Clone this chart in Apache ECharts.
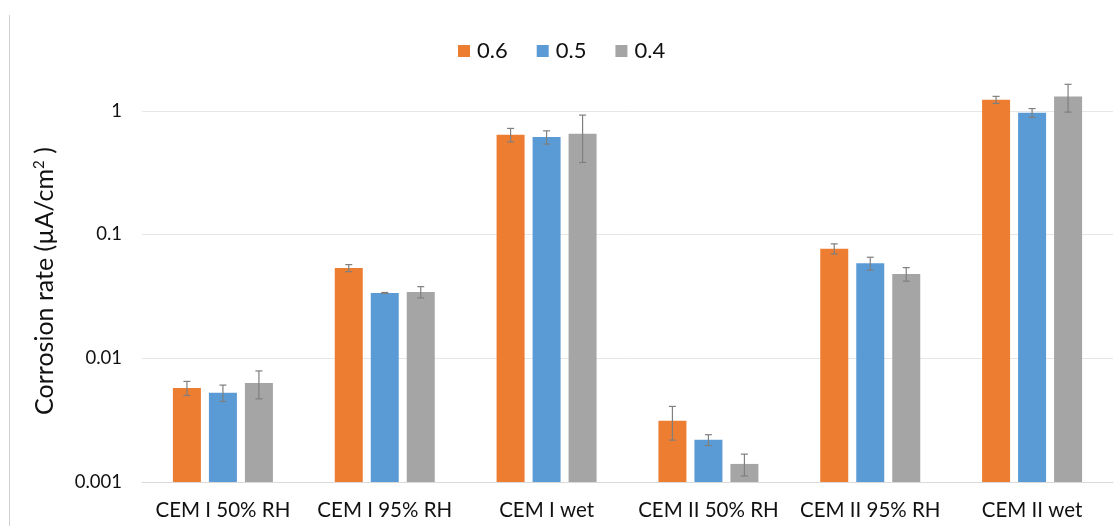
<!DOCTYPE html>
<html>
<head>
<meta charset="utf-8">
<script src="https://cdn.jsdelivr.net/npm/echarts@6/dist/echarts.min.js"></script>
<style>
  html, body { margin: 0; padding: 0; background: #fff; }
  #chart { width: 1116px; height: 526px; }
</style>
</head>
<body>
<div id="chart"></div>
<script>
// Corrosion rate per exposure condition, grouped by w/c ratio
const categories = ['CEM I 50% RH', 'CEM I 95% RH', 'CEM I wet', 'CEM II 50% RH', 'CEM II 95% RH', 'CEM II wet'];
const seriesNames = ['0.6', '0.5', '0.4'];
const rate06 = [0.00575, 0.0536, 0.640, 0.00313, 0.0768, 1.227];
const rate05 = [0.00527, 0.0337, 0.613, 0.00219, 0.0585, 0.963];
const rate04 = [0.0063, 0.0343, 0.652, 0.0014, 0.048, 1.305];
// symmetric error (± value)
const err06 = [0.00075, 0.0035, 0.08, 0.00095, 0.0072, 0.08];
const err05 = [0.0008, 0.0003, 0.075, 0.00022, 0.007, 0.078];
const err04 = [0.0016, 0.0036, 0.27, 0.00028, 0.006, 0.33];
const yTicks = [0.001, 0.01, 0.1, 1, 10];

const colors = ['#ED7D31', '#5B9BD5', '#A5A5A5'];
const BAR_W = 28;
const BAR_GAP = 8;
const FONT = 'Lato, "Open Sans", sans-serif';

const rates = [rate06, rate05, rate04];
const errs = [err06, err05, err04];

// Bars grow from the bottom of the log axis, each with its error whisker
function barSeries(k) {
  const offset = (k - 1) * (BAR_W + BAR_GAP);
  return {
    type: 'custom',
    name: seriesNames[k],
    itemStyle: { color: colors[k] },
    data: categories.map((c, i) => [i, rates[k][i], errs[k][i]]),
    encode: { x: 0, y: 1 },
    renderItem: function (params, api) {
      const i = api.value(0), v = api.value(1), e = api.value(2);
      const xc = api.coord([i, v])[0] + offset;
      const yTop = api.coord([i, v])[1];
      const yBase = api.coord([i, yTicks[0]])[1];
      const yHi = api.coord([i, v + e])[1];
      const yLo = api.coord([i, v - e])[1];
      const cap = 3.5;
      const st = { stroke: '#7F7F7F', lineWidth: 1.2 };
      return {
        type: 'group',
        children: [
          { type: 'rect', shape: { x: xc - BAR_W / 2, y: yTop, width: BAR_W, height: yBase - yTop },
            style: { fill: colors[k] } },
          { type: 'line', shape: { x1: xc, y1: yHi, x2: xc, y2: yLo }, style: st, z2: 5 },
          { type: 'line', shape: { x1: xc - cap, y1: yHi, x2: xc + cap, y2: yHi }, style: st, z2: 5 },
          { type: 'line', shape: { x1: xc - cap, y1: yLo, x2: xc + cap, y2: yLo }, style: st, z2: 5 }
        ]
      };
    }
  };
}

const chart = echarts.init(document.getElementById('chart'), null, { renderer: 'canvas' });
chart.setOption({
  animation: false,
  backgroundColor: '#fff',
  color: colors,
  legend: {
    data: seriesNames,
    top: 35,
    left: 453,
    icon: 'rect',
    itemWidth: 12,
    itemHeight: 12,
    itemGap: 29,
    textStyle: { fontFamily: FONT, fontSize: 22, color: '#111', padding: [0, 0, 0, 2] }
  },
  grid: { left: 142, right: 3, top: -13, bottom: 44, containLabel: false, outerBoundsMode: 'none' },
  xAxis: {
    type: 'category',
    data: categories,
    axisTick: { show: false },
    axisLine: { lineStyle: { color: '#D9D9D9', width: 1 } },
    axisLabel: { fontFamily: FONT, fontSize: 20.5, color: '#111', margin: 18, interval: 0 }
  },
  yAxis: {
    type: 'log',
    logBase: 10,
    min: yTicks[0],
    max: yTicks[yTicks.length - 1],
    axisLine: { show: false },
    axisTick: { show: false },
    splitLine: { lineStyle: { color: '#E6E6E6', width: 1 } },
    axisLabel: {
      fontFamily: FONT, fontSize: 18.5, color: '#111', margin: 20,
      formatter: function (v) {
        const t = yTicks.find(x => Math.abs(Math.log10(x) - Math.log10(v)) < 1e-6);
        return t !== undefined ? String(t) : '';
      }
    }
  },
  graphic: [
    { type: 'line', shape: { x1: 9.5, y1: 15, x2: 9.5, y2: 526 }, style: { stroke: '#D0D0D0', lineWidth: 1 } },
    {
      type: 'text', x: 45, y: 281, rotation: Math.PI / 2,
      style: {
        text: '{a|Corrosion rate (µA/cm}{s|2}{a| )}',
        align: 'center', verticalAlign: 'middle',
        rich: {
          a: { fontFamily: FONT, fontSize: 25, fill: '#111' },
          s: { fontFamily: FONT, fontSize: 15, fill: '#111', verticalAlign: 'top', padding: [0, 0, 11, 0] }
        }
      }
    }
  ],
  series: [barSeries(0), barSeries(1), barSeries(2)]
});
</script>
</body>
</html>
